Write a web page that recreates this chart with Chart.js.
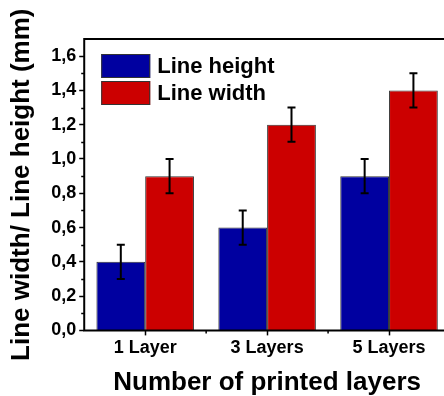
<!DOCTYPE html>
<html>
<head>
<meta charset="utf-8">
<script src="https://cdn.jsdelivr.net/npm/chart.js@4.4.0/dist/chart.umd.min.js"></script>
<style>
  html, body { margin: 0; padding: 0; background: #fff; overflow: hidden; }
  #wrap { width: 456px; height: 396px; position: relative; }
</style>
</head>
<body>
<div id="wrap"><canvas id="chart"></canvas></div>
<script>
const categories = ['1 Layer', '3 Layers', '5 Layers'];
const heightValues = [0.4, 0.6, 0.9];
const heightErrors = [0.1, 0.1, 0.1];
const widthValues = [0.9, 1.2, 1.4];
const widthErrors = [0.1, 0.1, 0.1];
const seriesNames = ['Line height', 'Line width'];
const yTicks = [0, 0.2, 0.4, 0.6, 0.8, 1.0, 1.2, 1.4, 1.6];
const yMinorTicks = [0.1, 0.3, 0.5, 0.7, 0.9, 1.1, 1.3, 1.5];

const FONT = '"Liberation Sans", Arial, sans-serif';
const blue = 'rgb(0, 0, 160)';
const red = 'rgb(204, 0, 0)';

// error bars, frame, minor ticks and the inside legend
const decorations = {
  id: 'decorations',
  afterDatasetsDraw(chart) {
    const ctx = chart.ctx;
    const y = chart.scales.y;
    const x = chart.scales.x;
    const area = chart.chartArea;

    ctx.save();
    ctx.strokeStyle = '#000';
    ctx.lineWidth = 2;
    chart.data.datasets.forEach((ds, di) => {
      const meta = chart.getDatasetMeta(di);
      meta.data.forEach((bar, i) => {
        const v = ds.data[i];
        const e = ds.errors[i];
        const top = y.getPixelForValue(v + e);
        const bot = y.getPixelForValue(v - e);
        ctx.beginPath();
        ctx.moveTo(bar.x, top);
        ctx.lineTo(bar.x, bot);
        ctx.moveTo(bar.x - 4, top);
        ctx.lineTo(bar.x + 4, top);
        ctx.moveTo(bar.x - 4, bot);
        ctx.lineTo(bar.x + 4, bot);
        ctx.stroke();
      });
    });

    // frame (right side falls outside the picture)
    ctx.lineWidth = 2;
    ctx.beginPath();
    ctx.moveTo(area.right + 10, area.top);
    ctx.lineTo(area.left, area.top);
    ctx.lineTo(area.left, area.bottom);
    ctx.lineTo(area.right + 10, area.bottom);
    ctx.stroke();

    // minor ticks
    ctx.lineWidth = 1.5;
    ctx.beginPath();
    yMinorTicks.forEach((v) => {
      const py = Math.round(y.getPixelForValue(v)) + 0.5;
      ctx.moveTo(area.left - 3, py);
      ctx.lineTo(area.left, py);
    });
    for (let i = 0; i < categories.length - 1; i++) {
      const px = (x.getPixelForValue(i) + x.getPixelForValue(i + 1)) / 2;
      ctx.moveTo(px, area.bottom);
      ctx.lineTo(px, area.bottom + 3);
    }
    ctx.stroke();

    // legend
    const colors = [blue, red];
    ctx.font = 'bold 22px ' + FONT;
    ctx.textBaseline = 'middle';
    seriesNames.forEach((name, i) => {
      const bx = area.left + 17;
      const by = area.top + 15 + i * 27;
      ctx.fillStyle = colors[i];
      ctx.fillRect(bx, by, 49, 24);
      ctx.strokeStyle = '#333';
      ctx.lineWidth = 1;
      ctx.strokeRect(bx + 0.5, by + 0.5, 48, 23);
      ctx.fillStyle = '#000';
      ctx.fillText(name, bx + 56, by + 13);
    });
    ctx.restore();
  }
};

new Chart(document.getElementById('chart'), {
  type: 'bar',
  data: {
    labels: categories,
    datasets: [
      {
        label: seriesNames[0],
        data: heightValues,
        errors: heightErrors,
        backgroundColor: blue,
        borderColor: '#333',
        borderWidth: 1,
        barPercentage: 1,
        categoryPercentage: 0.8,
      },
      {
        label: seriesNames[1],
        data: widthValues,
        errors: widthErrors,
        backgroundColor: red,
        borderColor: '#333',
        borderWidth: 1,
        barPercentage: 1,
        categoryPercentage: 0.8,
      },
    ],
  },
  options: {
    responsive: true,
    maintainAspectRatio: false,
    animation: false,
    layout: { padding: { top: 39, right: 6, left: 6, bottom: 0 } },
    plugins: {
      legend: { display: false },
      tooltip: { enabled: false },
    },
    scales: {
      x: {
        grid: {
          offset: false,
          drawOnChartArea: false,
          tickLength: 5,
          tickColor: '#000',
          tickWidth: 1.5,
        },
        border: { display: false },
        ticks: {
          color: '#000',
          font: { family: FONT, size: 18, weight: 'bold' },
          padding: 2,
        },
        title: {
          display: true,
          text: 'Number of printed layers',
          color: '#000',
          font: { family: FONT, size: 26, weight: 'bold', lineHeight: 1 },
          padding: { top: 9, bottom: 0 },
        },
      },
      y: {
        min: 0,
        max: 1.7,
        afterBuildTicks(scale) {
          scale.ticks = yTicks.map((v) => ({ value: v }));
        },
        grid: {
          drawOnChartArea: false,
          tickLength: 5,
          tickColor: '#000',
          tickWidth: 1.5,
        },
        border: { display: false },
        ticks: {
          color: '#000',
          font: { family: FONT, size: 18, weight: 'bold' },
          padding: 3,
          callback: (v) => Number(v).toFixed(1).replace('.', ','),
        },
        title: {
          display: true,
          text: 'Line width/ Line height (mm)',
          color: '#000',
          font: { family: FONT, size: 26, weight: 'bold' },
          padding: { top: 0, bottom: 11 },
        },
      },
    },
  },
  plugins: [decorations],
});
</script>
</body>
</html>
